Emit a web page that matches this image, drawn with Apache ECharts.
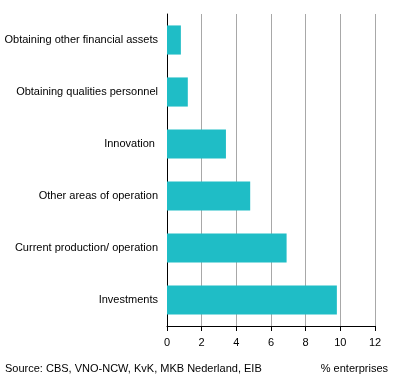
<!DOCTYPE html>
<html><head><meta charset="utf-8">
<script src="https://cdn.jsdelivr.net/npm/echarts@6/dist/echarts.min.js"></script>
<style>html,body{margin:0;padding:0;background:#fff}#c{width:396px;height:384px}</style>
</head><body><div id="c"></div>
<script>
const categories = ["Investments","Current production/ operation","Other areas of operation","Innovation ","Obtaining qualities personnel","Obtaining other financial assets"];
const values = [9.8, 6.9, 4.8, 3.4, 1.2, 0.8];
const xTicks = [0,2,4,6,8,10,12];
const sourceText = "Source: CBS, VNO-NCW, KvK, MKB Nederland, EIB";
const unitText = "% enterprises";

const chart = echarts.init(document.getElementById('c'), null, {renderer:'canvas'});
const font = "'Liberation Sans', Arial, sans-serif";
chart.setOption({
  animation:false,
  grid:{left:167, right:21, top:14, bottom:58},
  xAxis:{type:'value', min:0, max:12, interval:2,
    axisLine:{show:true, lineStyle:{color:'#000', width:1}},
    axisTick:{show:true, length:5, lineStyle:{color:'#000'}},
    axisLabel:{color:'#000', fontFamily:font, fontSize:11, margin:11},
    splitLine:{show:true, lineStyle:{color:'#a8a8a8', width:1}}},
  yAxis:{type:'category', data:categories,
    axisLine:{show:true, lineStyle:{color:'#000', width:1}},
    axisTick:{show:false},
    axisLabel:{color:'#000', fontFamily:font, fontSize:11, margin:9}},
  series:[{type:'bar', data:values, barCategoryGap:'44%',
    itemStyle:{color:'#1FBDC6'}}],
  graphic:[
    {type:'text', left:5, top:363, style:{text:sourceText, fill:'#000', font:"11px "+font}},
    {type:'text', right:8, top:363, style:{text:unitText, fill:'#000', font:"11px "+font}}
  ]
});
</script></body></html>
